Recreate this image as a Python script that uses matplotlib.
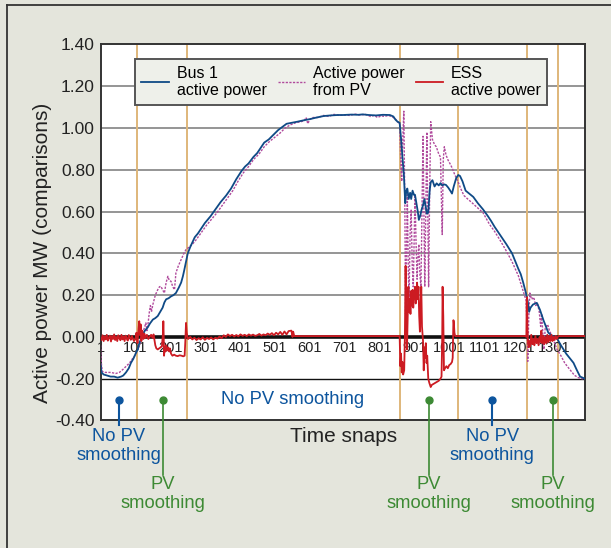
import numpy as np
import matplotlib
matplotlib.use("Agg")
import matplotlib.pyplot as plt
from matplotlib.lines import Line2D

plt.rcParams['font.family'] = ['Liberation Sans', 'DejaVu Sans']

# ---- data ----
bus_x = [1, 4, 10, 20, 30, 40, 50, 60, 66, 74, 82, 88, 95, 103, 108, 112, 117, 122, 128, 136,
         143, 151, 158, 165, 172, 179, 184, 189, 196, 203, 210, 217, 225, 232, 237, 241, 246, 251,
         258, 265, 271, 280, 290, 300, 316, 330, 345, 361, 375, 390, 405, 415, 425, 439, 450, 460,
         470, 483, 495, 510, 522, 534, 550, 565, 584, 600, 620, 640, 660, 680, 696, 720, 740, 752,
         770, 790, 810, 830, 840, 846, 852, 858, 862, 866, 870, 874, 877, 880, 884, 888, 891, 895,
         899, 902, 906, 910, 913, 917, 921, 925, 929, 932, 936, 940, 944, 947, 952, 958, 964, 970,
         975, 980, 986, 991, 997, 1003, 1008, 1013, 1020, 1026, 1031, 1038, 1047, 1058, 1069, 1082,
         1097, 1110, 1120, 1130, 1145, 1164, 1180, 1198, 1205, 1212, 1220, 1225, 1229, 1233, 1240,
         1251, 1260, 1270, 1278, 1284, 1295, 1308, 1320, 1335, 1356, 1366, 1375, 1389]
bus_y = [-0.13, -0.17, -0.18, -0.185, -0.19, -0.19, -0.195, -0.19, -0.185, -0.17, -0.15, -0.125,
         -0.105, -0.075, -0.06, -0.03, -0.01, 0.01, 0.03, 0.045, 0.065, 0.083, 0.09, 0.10, 0.12,
         0.14, 0.165, 0.18, 0.185, 0.194, 0.20, 0.21, 0.235, 0.26, 0.29, 0.32, 0.36, 0.40, 0.43,
         0.455, 0.477, 0.495, 0.52, 0.545, 0.577, 0.61, 0.645, 0.677, 0.71, 0.755, 0.794, 0.815,
         0.83, 0.861, 0.88, 0.905, 0.93, 0.945, 0.965, 0.99, 1.005, 1.02, 1.025, 1.03, 1.037,
         1.042, 1.05, 1.057, 1.06, 1.062, 1.062, 1.064, 1.063, 1.065, 1.062, 1.06, 1.063, 1.062,
         1.055, 1.04, 1.03, 1.025, 0.95, 0.86, 0.78, 0.64, 0.70, 0.71, 0.66, 0.69, 0.66, 0.70,
         0.68, 0.68, 0.64, 0.60, 0.56, 0.58, 0.61, 0.63, 0.66, 0.63, 0.59, 0.595, 0.70, 0.74,
         0.75, 0.72, 0.735, 0.725, 0.736, 0.725, 0.73, 0.727, 0.715, 0.70, 0.686, 0.72, 0.76,
         0.775, 0.77, 0.745, 0.70, 0.685, 0.67, 0.64, 0.61, 0.58, 0.555, 0.527, 0.49, 0.443,
         0.40, 0.326, 0.30, 0.26, 0.209, 0.17, 0.12, 0.14, 0.155, 0.163, 0.13, 0.08, 0.045,
         0.02, 0.005, -0.005, -0.04, -0.08, -0.124, -0.16, -0.19, -0.20]

pv_x = [1, 3, 6, 15, 30, 45, 55, 65, 75, 84, 90, 98, 105, 112, 117, 122, 126, 131, 134, 137,
        141, 144, 147, 151, 158, 165, 170, 174, 179, 184, 189, 194, 198, 203, 208, 213, 217, 224,
        232, 240, 246, 255, 265, 275, 290, 305, 320, 335, 350, 365, 380, 395, 410, 425, 440, 455,
        470, 485, 500, 515, 530, 545, 560, 575, 585, 590, 595, 600, 610, 625, 640, 655, 670, 685,
        700, 715, 730, 745, 760, 775, 785, 795, 805, 815, 825, 835, 845, 852, 858, 862, 864, 867,
        870, 873, 875, 878, 880, 883, 885, 888, 891, 894, 897, 900, 902, 905, 908, 911, 913, 916,
        919, 922, 925, 928, 930, 933, 936, 939, 941, 944, 947, 950, 952, 958, 963, 969, 975, 980,
        983, 986, 991, 997, 1002, 1008, 1015, 1025, 1033, 1042, 1053, 1064, 1080, 1097, 1115,
        1130, 1145, 1164, 1180, 1198, 1210, 1220, 1223, 1225, 1228, 1231, 1236, 1242, 1248, 1253,
        1258, 1262, 1265, 1268, 1271, 1275, 1282, 1287, 1293, 1300, 1309, 1320, 1331, 1345, 1359,
        1370, 1381, 1389]
pv_y = [-0.04, -0.12, -0.165, -0.17, -0.17, -0.175, -0.17, -0.156, -0.14, -0.125, -0.11, -0.093,
        -0.07, -0.045, -0.01, 0.02, 0.04, 0.067, 0.03, 0.06, 0.12, 0.15, 0.12, 0.155, 0.20, 0.226,
        0.24, 0.242, 0.225, 0.21, 0.26, 0.29, 0.27, 0.266, 0.24, 0.226, 0.306, 0.34, 0.37, 0.40,
        0.418, 0.43, 0.445, 0.465, 0.50, 0.535, 0.565, 0.595, 0.63, 0.665, 0.70, 0.745, 0.785,
        0.815, 0.85, 0.875, 0.91, 0.935, 0.955, 0.975, 1.0, 1.015, 1.025, 1.03, 1.035, 1.05, 1.02,
        1.04, 1.05, 1.05, 1.06, 1.055, 1.065, 1.06, 1.062, 1.06, 1.066, 1.062, 1.065, 1.055, 1.06,
        1.05, 1.058, 1.055, 1.06, 1.055, 1.045, 1.03, 1.02, 0.80, 0.745, 0.95, 1.08, 0.60, 0.11,
        0.45, 0.68, 0.30, 0.19, 0.50, 0.61, 0.35, 0.24, 0.50, 0.68, 0.45, 0.276, 0.40, 0.443,
        0.30, 0.24, 0.60, 0.96, 0.55, 0.24, 0.60, 0.98, 0.55, 0.24, 0.70, 1.03, 0.98, 0.945, 0.92,
        0.91, 0.88, 0.86, 0.49, 0.85, 0.91, 0.87, 0.845, 0.83, 0.81, 0.78, 0.744, 0.71, 0.677,
        0.66, 0.644, 0.62, 0.594, 0.54, 0.505, 0.465, 0.41, 0.36, 0.293, 0.23, 0.176, 0.05,
        -0.117, 0.10, 0.21, 0.18, 0.19, 0.15, 0.16, 0.12, 0.05, 0.11, 0.02, -0.06, 0.04, 0.06,
        0.03, 0.01, -0.02, -0.06, -0.09, -0.125, -0.155, -0.184, -0.195, -0.20, -0.20]

# ESS: first noisy stretch, sampled every 3 snaps
ess_noise1 = [-0.005, -0.015, 0.008, -0.02, 0.003, -0.012, 0.01, -0.018, -0.002, 0.006, -0.022,
              0.004, -0.01, 0.012, -0.015, 0.0, -0.02, 0.008, -0.006, -0.016, 0.01, -0.012, 0.002,
              -0.02, 0.006, -0.008, -0.018, 0.009, -0.004, -0.014, 0.005, -0.01, -0.02]
ess_x1 = list(range(1, 100, 3))
ess_x2 = [101, 104, 107, 110, 112, 114, 116, 118, 121, 124, 127, 130, 134, 138, 142, 146, 150,
          153, 156, 158, 161, 165, 169, 173, 177, 180, 181, 182, 183, 185, 187, 189, 192, 195,
          198, 200, 203, 207, 212, 217, 222, 228, 233, 238, 242, 244, 246, 248, 250]
ess_y2 = [-0.01, 0.02, -0.03, 0.04, 0.075, 0.01, 0.06, -0.02, 0.03, -0.01, 0.015, -0.005, 0.01,
          -0.01, 0.0, 0.01, -0.005, 0.012, -0.02, -0.04, -0.055, -0.06, -0.055, -0.05, -0.045,
          0.02, 0.075, 0.01, -0.09, -0.05, -0.07, -0.04, -0.065, -0.05, -0.07, -0.055, -0.08,
          -0.09, -0.085, -0.09, -0.092, -0.088, -0.09, -0.093, -0.09, -0.02, 0.067, 0.02, 0.0]
ess_noise3 = [-0.01, 0.0, -0.012, -0.004, -0.015, -0.006, -0.012, -0.002, -0.014, -0.005, -0.01,
              -0.003, -0.012, -0.004, -0.008, 0.002, -0.006, 0.008, 0.0, 0.012, 0.004, 0.01, 0.002,
              0.009, 0.003, 0.012, 0.005, 0.01, 0.004, 0.012, 0.006, 0.011, 0.005, 0.008, 0.014,
              0.006, 0.012, 0.008, 0.016, 0.01, 0.018, 0.008, 0.02, 0.012, 0.024, 0.01, 0.026,
              0.012, 0.028]
ess_x3 = list(range(252, 546, 6))
ess_x4 = [548, 551, 553, 556, 858, 860, 862, 864, 866, 868, 871, 873, 875, 877, 879, 881, 883,
          885, 887, 889, 891, 893, 895, 897, 899, 902, 904, 906, 908, 910, 912, 914, 916, 918,
          920, 922, 925, 927, 929, 931, 933, 935, 937, 940, 943, 947, 950, 955, 960, 965, 970,
          975, 978, 980, 981, 983, 985, 988, 992, 996, 1000, 1004, 1008, 1010, 1012, 1013, 1015,
          1017, 1218, 1221, 1222, 1223, 1224, 1226, 1228, 1230, 1232, 1235, 1238, 1241, 1244,
          1247, 1250, 1253, 1256, 1259, 1262, 1264, 1266, 1269, 1272, 1275, 1278, 1281, 1284,
          1287, 1290, 1293, 1296, 1299, 1302, 1305, 1308, 1311, 1314, 1389]
ess_y4 = [0.03, 0.0, 0.025, 0.004, 0.004, -0.14, -0.08, -0.17, -0.12, -0.18, -0.16, 0.0, 0.34,
          0.10, -0.06, 0.10, 0.24, 0.12, 0.18, 0.11, 0.22, 0.15, 0.225, 0.14, 0.20, 0.24, 0.16,
          0.20, 0.26, 0.18, 0.24, 0.10, 0.025, 0.15, 0.24, 0.05, -0.02, -0.16, -0.05, -0.10,
          -0.03, -0.125, -0.09, -0.20, -0.22, -0.24, -0.23, -0.225, -0.22, -0.215, -0.21, -0.20,
          -0.19, 0.0, 0.24, 0.10, -0.16, -0.15, -0.14, -0.15, -0.135, -0.13, -0.12, -0.10, 0.08,
          0.075, 0.02, 0.004, 0.004, 0.0, 0.17, 0.19, 0.05, -0.03, -0.05, -0.02, -0.045, 0.01,
          -0.035, -0.01, -0.04, 0.005, -0.03, -0.01, -0.04, 0.0, -0.025, 0.03, -0.03, 0.005,
          -0.035, 0.0, -0.03, 0.01, -0.025, 0.005, -0.02, 0.01, -0.02, 0.0, -0.015, 0.005, -0.01,
          0.0, 0.004, 0.004]
ess_x = ess_x1 + ess_x2 + ess_x3 + ess_x4
ess_y = ess_noise1 + ess_y2 + ess_noise3 + ess_y4

boundaries = [105, 250, 858, 1025, 1222, 1313]
xticks = [1, 101, 201, 301, 401, 501, 601, 701, 801, 901, 1001, 1101, 1201, 1301]
yticks = [-0.4, -0.2, 0.0, 0.2, 0.4, 0.6, 0.8, 1.0, 1.2, 1.4]

# (x, text, colour)
zone_marks = [(54, 'No PV\nsmoothing', 'blue'), (179, 'PV\nsmoothing', 'green'),
              (941, 'PV\nsmoothing', 'green'), (1123, 'No PV\nsmoothing', 'blue'),
              (1297, 'PV\nsmoothing', 'green')]

c_bus = '#0f4a86'
c_pv = '#b04a9c'
c_ess = '#cc1b22'
c_bound = '#dfb77a'
c_ann = {'blue': '#0d559e', 'green': '#3d8a34'}
bg = '#e4e5dc'

fig = plt.figure(figsize=(6.11, 5.48), dpi=100, facecolor=bg)
ax = fig.add_axes([0.1645, 0.2327, 0.7935, 0.6863])
ax.set_facecolor('white')

for y in [0.2, 0.4, 0.6, 0.8, 1.0, 1.2]:
    ax.axhline(y, color='#8c8c8c', lw=1.3, zorder=1)
ax.axhline(-0.2, color='#111111', lw=1.0, zorder=1)
ax.axhline(0.0, color='#111111', lw=2.6, zorder=2)
for b in boundaries:
    ax.axvline(b, color=c_bound, lw=1.4, zorder=1.5)

ax.plot(bus_x, bus_y, color=c_bus, lw=1.3, zorder=4, label='Bus 1\nactive power')
ax.plot(pv_x, pv_y, color=c_pv, lw=1.0, ls=(0, (1.6, 1.0)), zorder=3, label='Active power\nfrom PV')
ax.plot(ess_x, ess_y, color=c_ess, lw=1.3, zorder=5, label='ESS\nactive power')

ax.set_xlim(1, 1390)
ax.set_ylim(-0.4, 1.4)
ax.set_yticks(yticks)
ax.set_yticklabels(['%.2f' % v for v in yticks])
ax.set_xticks(xticks)
ax.set_xticklabels([str(v) for v in xticks])
ax.tick_params(axis='y', length=0, labelsize=12.5, labelcolor='#222222', pad=4)
ax.tick_params(axis='x', length=0, labelsize=10.5, labelcolor='#222222', pad=-57)
for s in ax.spines.values():
    s.set_color('#333333')
    s.set_linewidth(1.4)

leg = ax.legend(loc='upper left', bbox_to_anchor=(135 / 611, 1 - 59.4 / 548),
                bbox_transform=fig.transFigure, ncol=3, fontsize=11.5, frameon=True,
                fancybox=False, borderpad=0.4, borderaxespad=0, handlelength=1.7,
                handletextpad=0.5, columnspacing=0.7, framealpha=1)
leg.get_frame().set_facecolor('#eef0ea')
leg.get_frame().set_edgecolor('#555555')
leg.get_frame().set_linewidth(1.4)
leg.set_zorder(10)

ax.text(552, -0.30, 'No PV smoothing', color=c_ann['blue'], fontsize=13.2,
        ha='center', va='center', zorder=6)
for x, txt, c in zone_marks:
    col = c_ann[c]
    if c == 'blue':
        y_end, y_txt = -0.423, -0.435
    else:
        y_end, y_txt = -0.659, -0.665
    ax.plot([x, x], [-0.30, y_end], color=col, lw=1.5 if c == 'blue' else 1.2,
            clip_on=False, zorder=6)
    ax.plot([x], [-0.30], 'o', color=col, ms=5, clip_on=False, zorder=7)
    ax.text(x, y_txt, txt, color=col, fontsize=13.2, ha='center', va='top',
            linespacing=1.15, clip_on=False)

ax.text(696, -0.479, 'Time snaps', color='#222222', fontsize=15, ha='center', va='center',
        clip_on=False)
fig.text(43 / 611, 1 - 252.5 / 548, 'Active power MW (comparisons)', rotation=90,
         fontsize=15, color='#222222', ha='center', va='center')

# outer frame (top and left edges)
fx, fy = 7 / 611, 1 - 5 / 548
fig.add_artist(Line2D([fx, 1.0], [fy, fy], color='#333333', lw=1.3, transform=fig.transFigure))
fig.add_artist(Line2D([fx, fx], [0.0, fy], color='#333333', lw=1.3, transform=fig.transFigure))

fig.savefig('out.png', dpi=100, facecolor=bg)
